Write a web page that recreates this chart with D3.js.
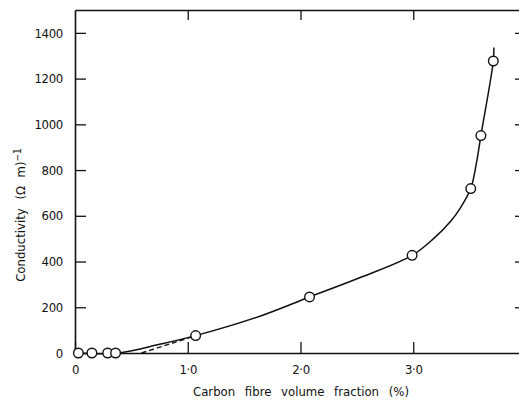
<!DOCTYPE html>
<html>
<head>
<meta charset="utf-8">
<script src="https://cdn.jsdelivr.net/npm/d3@7"></script>
<style>
  html, body { margin: 0; padding: 0; background: #fff; }
  svg { display: block; }
  text { font-family: "DejaVu Sans Condensed", "DejaVu Sans", sans-serif; fill: #111; }
</style>
</head>
<body>
<svg id="chart" width="519" height="404"></svg>
<script>
// Measured data points (carbon fibre volume fraction %, conductivity (Ω m)^-1)
const pointX = [0.03, 0.15, 0.29, 0.36, 1.07, 2.08, 2.99, 3.51, 3.60, 3.71];
const pointY = [0, 0, 0, 0, 76, 245, 427, 719, 951, 1277];

// Fitted solid curve
const curveX = [0, 0.38, 0.75, 1.07, 1.64, 2.08, 2.53, 2.99, 3.18, 3.33, 3.42, 3.51, 3.56, 3.60, 3.71, 3.715];
const curveY = [0, 0, 38, 76, 161, 245, 330, 427, 500, 575, 636, 719, 830, 951, 1277, 1336];

// Dashed extrapolation line
const dashX = [0.59, 1.07];
const dashY = [0, 76];

const xTicks = [0, 1, 2, 3];
const yTicks = [0, 200, 400, 600, 800, 1000, 1200, 1400];

const svg = d3.select("#chart");
const x = d3.scaleLinear().domain([0, 4]).range([75, 526]);
const y = d3.scaleLinear().domain([0, 1500]).range([353, 10]);

const fmtX = d => d === 0 ? "0" : d.toFixed(1).replace(".", "\u00B7");

// Left axis
const gl = svg.append("g").attr("transform", `translate(${x(0)},0)`)
  .call(d3.axisLeft(y).tickValues(yTicks).tickFormat(d3.format("d")).tickSize(-11).tickPadding(12).tickSizeOuter(0));
// Bottom axis
const gb = svg.append("g").attr("transform", `translate(0,${y(0)})`)
  .call(d3.axisBottom(x).tickValues(xTicks).tickFormat(fmtX).tickSize(-11).tickPadding(12).tickSizeOuter(0));
// Top axis (ticks only)
const gt = svg.append("g").attr("transform", `translate(0,${y(1500)})`)
  .call(d3.axisTop(x).tickValues(xTicks.slice(1)).tickFormat("").tickSize(-10).tickSizeOuter(0));
// Right axis (ticks only)
const gr = svg.append("g").attr("transform", `translate(${x(4)},0)`)
  .call(d3.axisRight(y).tickValues(yTicks.slice(1)).tickFormat("").tickSize(-11).tickSizeOuter(0));

[gl, gb, gt, gr].forEach(g => {
  g.selectAll("path.domain").attr("stroke", "#111").attr("stroke-width", 1.6);
  g.selectAll(".tick line").attr("stroke", "#111").attr("stroke-width", 1.3);
  g.selectAll(".tick text").style("font-size", "13px").style("letter-spacing", "-0.3px").attr("fill", "#111")
    .style("font-family", "'DejaVu Sans Condensed', 'DejaVu Sans', sans-serif");
});

// Solid curve
const line = d3.line().x(d => x(d[0])).y(d => y(d[1])).curve(d3.curveCatmullRom.alpha(0.5));
svg.append("path")
  .datum(curveX.map((v, i) => [v, curveY[i]]))
  .attr("d", line)
  .attr("fill", "none").attr("stroke", "#111").attr("stroke-width", 1.5);

// Dashed line
svg.append("path")
  .datum(dashX.map((v, i) => [v, dashY[i]]))
  .attr("d", d3.line().x(d => x(d[0])).y(d => y(d[1])))
  .attr("fill", "none").attr("stroke", "#111").attr("stroke-width", 1.4)
  .attr("stroke-dasharray", "5,3");

// Points
svg.append("g").selectAll("circle")
  .data(pointX.map((v, i) => [v, pointY[i]]))
  .join("circle")
  .attr("cx", d => x(d[0])).attr("cy", d => y(d[1])).attr("r", 4.8)
  .attr("fill", "#fff").attr("stroke", "#111").attr("stroke-width", 1.4);

// Axis titles
svg.append("text")
  .attr("x", 301).attr("y", 396)
  .attr("text-anchor", "middle")
  .style("font-size", "13px").style("word-spacing", "6px")
  .text("Carbon fibre volume fraction (%)");

const yt = svg.append("text")
  .attr("transform", "translate(25,215) rotate(-90)")
  .attr("text-anchor", "middle")
  .style("font-size", "13px").style("word-spacing", "5px");
yt.append("tspan").text("Conductivity (\u03A9 m)");
yt.append("tspan").attr("dy", "-0.45em").style("font-size", "10px").text("\u22121");
</script>
</body>
</html>
